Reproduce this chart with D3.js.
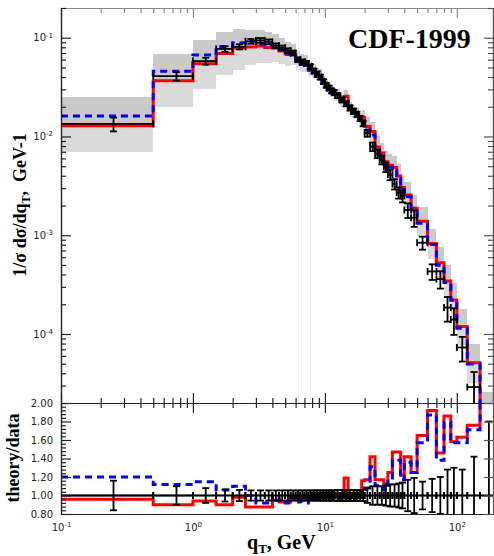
<!DOCTYPE html>
<html>
<head>
<meta charset="utf-8">
<script src="https://cdn.jsdelivr.net/npm/d3@7"></script>
<style>
  body { margin: 0; background: #fff; }
  svg { display: block; }
</style>
</head>
<body>
<svg id="chart" width="494" height="556"></svg>
<script>
// q_T bin edges (GeV)
const binEdges = [0, 0.5, 1, 1.5, 2, 2.5, 3, 3.5, 4, 4.5, 5, 5.5, 6, 6.5, 7, 7.5, 8, 8.5, 9, 9.5, 10, 10.5, 11, 11.5, 12,
    13, 14, 15, 16, 17, 18, 19, 20, 22, 24, 26, 28, 30, 32.5, 35, 37.5, 40, 45, 50, 60, 70, 80, 90, 100, 120, 150, 200];

// CDF-1999 data, 1/sigma dsigma/dqT (GeV^-1), one value per bin
const dataVals = [0.0134, 0.0408, 0.058, 0.077, 0.081, 0.092, 0.094, 0.091, 0.083, 0.079, 0.074, 0.070,
    0.060, 0.057, 0.055, 0.051, 0.046, 0.043, 0.040, 0.036, 0.033, 0.031, 0.029, 0.028,
    0.026, 0.0235, 0.0215, 0.0195, 0.0180, 0.0168, 0.0152, 0.0135,
    0.0108, 0.0079, 0.0067, 0.0058, 0.0049,
    0.0041, 0.0033, 0.0027, 0.0025,
    0.0018, 0.0015,
    0.00084, 0.00043, 0.00036, 0.000185, 0.00014,
    0.000073, 0.000029, 0.000007];

// relative errors of the data
const dataErr = [0.16, 0.10, 0.08, 0.065, 0.06, 0.055, 0.055, 0.055, 0.055, 0.055, 0.055, 0.055,
    0.055, 0.055, 0.055, 0.055, 0.055, 0.055, 0.055, 0.055, 0.055, 0.055, 0.055, 0.055,
    0.06, 0.06, 0.06, 0.06, 0.06, 0.06, 0.06, 0.06,
    0.08, 0.10, 0.10, 0.10, 0.11,
    0.12, 0.12, 0.13, 0.14,
    0.17, 0.19,
    0.15, 0.18, 0.20, 0.28, 0.30,
    0.28, 0.42, 0.80];

// theory / data (red = solid, blue = dashed)
const redRatio = [0.96, 0.90, 0.94, 0.90, 0.98, 0.875, 0.875, 0.875, 0.95, 0.93, 0.93, 0.96,
    0.98, 0.97, 0.99, 0.96, 1.00, 0.98, 1.02, 0.99, 1.01, 0.98, 1.00, 0.99,
    1.02, 0.97, 1.19, 1.00, 0.99, 1.03, 1.00, 1.16,
    1.17, 1.42, 1.17, 1.17, 1.13,
    1.25, 1.47, 1.47, 1.22,
    1.42, 1.25,
    1.65, 1.92, 1.46, 1.86, 1.58,
    1.63, 1.76, 2.30];
const blueRatio = [1.20, 1.12, 1.15, 1.06, 1.10, 1.00, 0.92, 0.92, 1.00, 0.95, 0.92, 0.98,
    0.93, 0.94, 0.96, 0.92, 0.97, 0.94, 1.00, 0.96, 0.98, 0.95, 0.97, 0.96,
    0.98, 0.95, 1.03, 0.97, 0.95, 0.99, 0.97, 1.07,
    1.08, 1.31, 1.11, 1.11, 1.06,
    1.19, 1.38, 1.38, 1.17,
    1.36, 1.25,
    1.57, 1.87, 1.38, 1.79, 1.57,
    1.57, 1.71, 2.30];

// uncertainty band, factors relative to the solid curve
const bandUp = [1.94, 1.88, 1.75, 1.64, 1.55, 1.50, 1.45, 1.42, 1.38, 1.35, 1.32, 1.30,
    1.26, 1.24, 1.22, 1.20, 1.19, 1.18, 1.17, 1.16, 1.15, 1.15, 1.15, 1.15,
    1.15, 1.15, 1.15, 1.15, 1.15, 1.15, 1.15, 1.18,
    1.25, 1.25, 1.28, 1.28, 1.30,
    1.30, 1.30, 1.32, 1.32,
    1.35, 1.35,
    1.40, 1.40, 1.45, 1.45, 1.50,
    1.50, 1.55, 1.60];
const bandDn = [0.54, 0.54, 0.55, 0.60, 0.59, 0.66, 0.68, 0.70, 0.72, 0.74, 0.76, 0.78,
    0.80, 0.82, 0.83, 0.84, 0.85, 0.86, 0.86, 0.87, 0.87, 0.87, 0.87, 0.87,
    0.87, 0.87, 0.87, 0.87, 0.87, 0.87, 0.87, 0.85,
    0.80, 0.80, 0.78, 0.78, 0.77,
    0.76, 0.76, 0.75, 0.75,
    0.74, 0.74,
    0.70, 0.70, 0.68, 0.68, 0.66,
    0.65, 0.62, 0.60];

const refLines = [6.3, 7.8];
const xMajor = [0.1, 1, 10, 100];
const xExp = ['-1', '0', '1', '2'];
const yMajor = [1e-4, 1e-3, 1e-2, 1e-1];
const yExp = ['-4', '-3', '-2', '-1'];
const ratioMajor = [0.8, 1.0, 1.2, 1.4, 1.6, 1.8, 2.0];

const left = 61, right = 493, topY = 8, midY = 403, botY = 514;
const svg = d3.select('#chart');

const x = d3.scaleLog().domain([0.1, 188]).range([left, right]);
const y = d3.scaleLog().domain([2e-5, 0.2]).range([midY, topY]);
const yr = d3.scaleLinear().domain([0.8, 2.0]).range([botY, midY]);
const xc = v => x(Math.max(v, 0.1));
const isMajor = v => Math.abs(Math.log10(v) - Math.round(Math.log10(v))) < 1e-9;

const bins = dataVals.map((v, i) => ({
    lo: binEdges[i], hi: binEdges[i + 1], mid: (binEdges[i] + binEdges[i + 1]) / 2,
    val: v, err: dataErr[i],
    red: v * redRatio[i], blue: v * blueRatio[i],
    rr: redRatio[i], br: blueRatio[i],
    up: bandUp[i], dn: bandDn[i]
}));

const defs = svg.append('defs');
defs.append('clipPath').attr('id', 'clipTop').append('rect')
    .attr('x', left).attr('y', topY).attr('width', right - left).attr('height', midY - topY);
defs.append('clipPath').attr('id', 'clipBot').append('rect')
    .attr('x', left).attr('y', midY).attr('width', right - left).attr('height', botY - midY);

// ---------- top panel ----------
const topG = svg.append('g').attr('clip-path', 'url(#clipTop)');

topG.selectAll('.band-lo').data(bins).enter().append('rect')
    .attr('x', d => xc(d.lo)).attr('width', d => x(d.hi) - xc(d.lo))
    .attr('y', d => y(d.red)).attr('height', d => y(d.red * d.dn) - y(d.red))
    .attr('fill', '#dadada').attr('shape-rendering', 'crispEdges');
topG.selectAll('.band-hi').data(bins).enter().append('rect')
    .attr('x', d => xc(d.lo)).attr('width', d => x(d.hi) - xc(d.lo))
    .attr('y', d => y(d.red * d.up)).attr('height', d => y(d.red) - y(d.red * d.up))
    .attr('fill', '#c9c9c9').attr('shape-rendering', 'crispEdges');

topG.selectAll('.ref').data(refLines).enter().append('line')
    .attr('x1', d => x(d)).attr('x2', d => x(d))
    .attr('y1', topY).attr('y2', midY)
    .attr('stroke', '#ececec').attr('stroke-width', 1);

function stepPts(key) {
    const p = [];
    bins.forEach(b => { p.push([b.lo, b[key]]); p.push([b.hi, b[key]]); });
    return p;
}
const stepLine = sc => d3.line().x(d => xc(d[0])).y(d => sc(d[1]));

topG.append('path').attr('d', stepLine(y)(stepPts('red')))
    .attr('fill', 'none').attr('stroke', '#ff0000').attr('stroke-width', 3);
topG.append('path').attr('d', stepLine(y)(stepPts('blue')))
    .attr('fill', 'none').attr('stroke', '#0000ff').attr('stroke-width', 3)
    .attr('stroke-dasharray', '7,5');

function drawPoints(g, sc, valFn) {
    const pt = g.selectAll('.pt').data(bins).enter().append('g')
        .attr('stroke', '#000').attr('stroke-width', 1.8).attr('fill', 'none');
    pt.append('line')
        .attr('x1', d => xc(d.lo)).attr('x2', d => x(d.hi))
        .attr('y1', d => sc(valFn(d))).attr('y2', d => sc(valFn(d)));
    pt.append('line')
        .attr('x1', d => xc(d.lo)).attr('x2', d => xc(d.lo))
        .attr('y1', d => sc(valFn(d)) - 3.5).attr('y2', d => sc(valFn(d)) + 3.5)
        .attr('display', d => d.lo < 0.1 ? 'none' : null);
    pt.append('line')
        .attr('x1', d => x(d.hi)).attr('x2', d => x(d.hi))
        .attr('y1', d => sc(valFn(d)) - 3.5).attr('y2', d => sc(valFn(d)) + 3.5);
    pt.append('line')
        .attr('x1', d => x(d.mid)).attr('x2', d => x(d.mid))
        .attr('y1', d => sc(valFn(d) * (1 + d.err))).attr('y2', d => sc(valFn(d) * (1 - d.err)));
    [d => 1 + d.err, d => 1 - d.err].forEach(f => {
        pt.append('line')
            .attr('x1', d => x(d.mid) - 3.5).attr('x2', d => x(d.mid) + 3.5)
            .attr('y1', d => sc(valFn(d) * f(d))).attr('y2', d => sc(valFn(d) * f(d)));
    });
}
drawPoints(topG, y, d => d.val);

// ---------- ratio panel ----------
const botG = svg.append('g').attr('clip-path', 'url(#clipBot)');
botG.append('line')
    .attr('x1', left).attr('x2', right).attr('y1', yr(1)).attr('y2', yr(1))
    .attr('stroke', '#000').attr('stroke-width', 1.5);
botG.append('path').attr('d', stepLine(yr)(stepPts('rr')))
    .attr('fill', 'none').attr('stroke', '#ff0000').attr('stroke-width', 3);
botG.append('path').attr('d', stepLine(yr)(stepPts('br')))
    .attr('fill', 'none').attr('stroke', '#0000ff').attr('stroke-width', 3)
    .attr('stroke-dasharray', '7,5');
drawPoints(botG, yr, d => 1);

// ---------- axes ----------
const xMinor = x.ticks().filter(v => !isMajor(v));
const yMinor = y.ticks().filter(v => !isMajor(v));
const rMinor = d3.range(0.84, 2.0, 0.04).filter(v => Math.abs(v * 5 - Math.round(v * 5)) > 1e-6);

function plain(g, color) {
    g.select('.domain').attr('stroke', color).attr('stroke-width', 1.2);
    g.selectAll('.tick line').attr('stroke', color).attr('stroke-width', 1.2);
    g.attr('font-family', 'DejaVu Sans').attr('font-size', 10);
    g.selectAll('.tick text').attr('fill', '#222');
}
function addAxis(tr, axis, color) {
    return svg.append('g').attr('transform', tr).call(axis).call(g => plain(g, color || '#222'));
}
function supLabels(g, exps, ticks) {
    g.selectAll('.tick text').each(function (d) {
        const k = ticks.findIndex(t => Math.abs(t - d) < 1e-12);
        const t = d3.select(this).text(null);
        t.append('tspan').text('10');
        t.append('tspan').attr('font-size', 7).attr('dy', '-0.55em').text(exps[k]);
    });
}

// top edge
addAxis(`translate(0,${topY})`, d3.axisTop(x).tickValues(xMinor).tickSize(-5).tickSizeOuter(0).tickFormat(''), '#888');
addAxis(`translate(0,${topY})`, d3.axisTop(x).tickValues(xMajor).tickSize(-10).tickSizeOuter(0).tickFormat(''), '#888');
// panel separator with crossing ticks
[[d3.axisTop, 5, xMinor], [d3.axisTop, 10, xMajor], [d3.axisBottom, 5, xMinor], [d3.axisBottom, 10, xMajor]]
    .forEach(([ax, s, v]) => addAxis(`translate(0,${midY})`, ax(x).tickValues(v).tickSize(s).tickSizeOuter(0).tickFormat('')));
// bottom axis with labels
const xAx = addAxis(`translate(0,${botY})`, d3.axisBottom(x).tickValues(xMajor).tickSize(0).tickPadding(10).tickSizeOuter(0));
supLabels(xAx, xExp, xMajor);

// left, top panel
addAxis(`translate(${left},0)`, d3.axisLeft(y).tickValues(yMinor).tickSize(-5).tickSizeOuter(0).tickFormat(''));
const yAx = addAxis(`translate(${left},0)`, d3.axisLeft(y).tickValues(yMajor).tickSize(-10).tickPadding(8).tickSizeOuter(0));
supLabels(yAx, yExp, yMajor);
// right, top panel
addAxis(`translate(${right},0)`, d3.axisLeft(y).tickValues(yMinor).tickSize(5).tickSizeOuter(0).tickFormat(''), '#555');
addAxis(`translate(${right},0)`, d3.axisLeft(y).tickValues(yMajor).tickSize(9).tickSizeOuter(0).tickFormat(''), '#555');

// ratio panel left / right
addAxis(`translate(${left},0)`, d3.axisLeft(yr).tickValues(rMinor).tickSize(-5).tickSizeOuter(0).tickFormat(''));
addAxis(`translate(${left},0)`, d3.axisLeft(yr).tickValues(ratioMajor).tickSize(-10).tickPadding(8).tickSizeOuter(0).tickFormat(d3.format('.2f')));
addAxis(`translate(${right},0)`, d3.axisLeft(yr).tickValues(ratioMajor).tickSize(9).tickSizeOuter(0).tickFormat(''), '#555');

// ---------- texts ----------
svg.append('text').attr('x', 348).attr('y', 48)
    .attr('font-family', 'Liberation Serif').attr('font-weight', 'bold').attr('font-size', 28)
    .text('CDF-1999');

const yl = svg.append('text').attr('transform', 'translate(26,205) rotate(-90)')
    .attr('text-anchor', 'middle')
    .attr('font-family', 'Liberation Serif').attr('font-weight', 'bold').attr('font-size', 18);
yl.append('tspan').text('1/σ dσ/dq');
yl.append('tspan').attr('font-size', 12).attr('dy', 4).text('T');
yl.append('tspan').attr('dy', -4).text(',\u00a0\u00a0GeV-1');

svg.append('text').attr('transform', 'translate(19,458) rotate(-90)')
    .attr('text-anchor', 'middle')
    .attr('font-family', 'Liberation Serif').attr('font-weight', 'bold').attr('font-size', 18)
    .text('theory/data');

const xl = svg.append('text').attr('x', 247).attr('y', 549)
    .attr('font-family', 'Liberation Serif').attr('font-weight', 'bold').attr('font-size', 20);
xl.append('tspan').text('q');
xl.append('tspan').attr('font-size', 13).attr('dy', 4).text('T');
xl.append('tspan').attr('dy', -4).text(', GeV');
</script>
</body>
</html>
